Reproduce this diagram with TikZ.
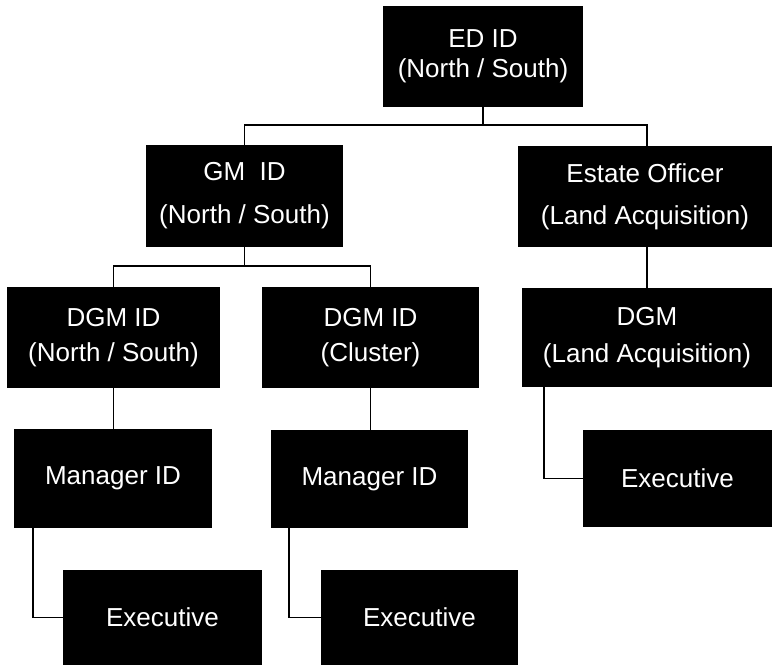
\documentclass[tikz,border=0pt]{standalone}
\usepackage{fontspec}
\setmainfont{Liberation Sans}
\begin{document}
\begin{tikzpicture}[x=1pt,y=-1pt,
  orgbox/.style={fill=black,text=white,inner sep=0pt,align=center,
    font=\fontsize{26}{30}\selectfont},
  link/.style={draw=black,line width=1.6pt}]
\useasboundingbox (0,0) rectangle (773,667);

% boxes
\node[orgbox,minimum width=200,minimum height=101] (ed)   at (483,56.5)   {ED ID\\(North / South)};
\node[orgbox,minimum width=197,minimum height=102] (gm)   at (244.5,196)  {GM\ \ ID\\[13pt](North / South)};
\node[orgbox,minimum width=254,minimum height=101] (eo)   at (645,196.5)  {Estate Officer\\[12pt](Land Acquisition)};
\node[orgbox,minimum width=213,minimum height=101] (dgma) at (113.5,337.5) {DGM ID\\[5pt](North / South)};
\node[orgbox,minimum width=217,minimum height=101] (dgmb) at (370.5,337.5) {DGM ID\\[5pt](Cluster)};
\node[orgbox,minimum width=250,minimum height=99]  (dgmc) at (647,337.5)  {DGM\\[7pt](Land Acquisition)};
\node[orgbox,minimum width=198,minimum height=99]  (mga)  at (113,478.5)  {Manager ID};
\node[orgbox,minimum width=197,minimum height=98]  (mgb)  at (369.5,479)  {Manager ID};
\node[orgbox,minimum width=189,minimum height=97]  (exc)  at (677.5,478.5) {Executive};
\node[orgbox,minimum width=199,minimum height=95]  (exa)  at (162.5,617.5) {Executive};
\node[orgbox,minimum width=197,minimum height=95]  (exb)  at (419.5,617.5) {Executive};

% bus lines
\coordinate (busa) at (0,125);
\coordinate (busb) at (0,266);

% connectors
\draw[link] (ed.south) -- (ed.south |- busa);
\draw[link] (gm.north) |- ([xshift=2pt]eo.north |- busa) -- ([xshift=2pt]eo.north);
\draw[link] (gm.south) -- (gm.south |- busb);
\draw[link] (dgma.north) |- (dgmb.north |- busb) -- (dgmb.north);
\draw[link] (dgmc.north) -- (dgmc.north |- eo.south);
\draw[link] (dgma.south) -- (dgma.south |- mga.north);
\draw[link] (dgmb.south) -- (dgmb.south |- mgb.north);
\draw[link] ([xshift=19pt]mga.south west) |- (exa.west);
\draw[link] ([xshift=18pt]mgb.south west) |- (exb.west);
\draw[link] ([xshift=22pt]dgmc.south west) |- (exc.west);
\end{tikzpicture}
\end{document}
